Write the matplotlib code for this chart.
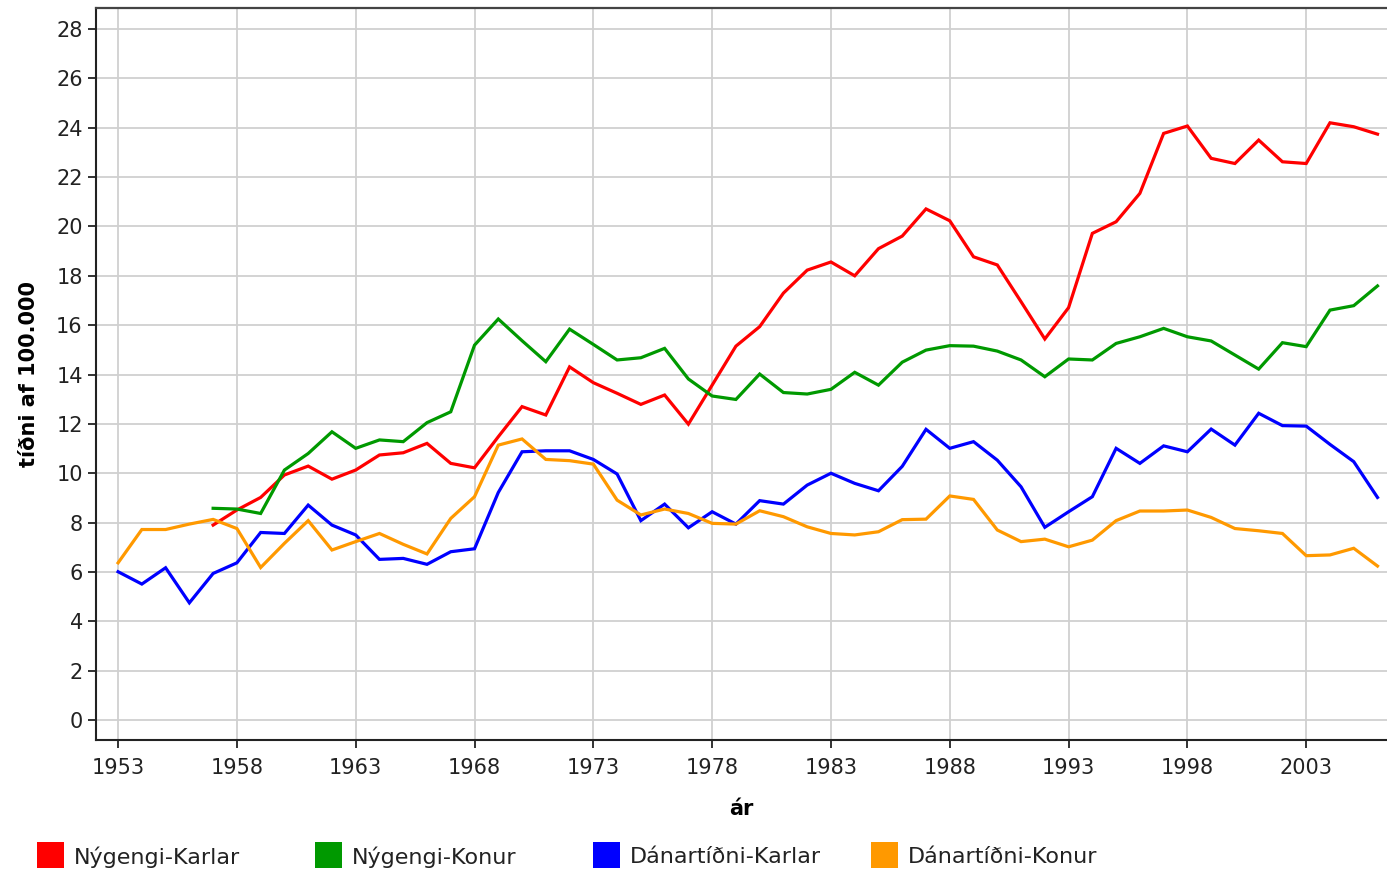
import numpy as np
import matplotlib
matplotlib.use("Agg")
import matplotlib.pyplot as plt
from matplotlib.patches import Rectangle

# === Data ===
years = list(range(1953, 2007))

# Nýgengi series start in 1957
nyg_karlar = [np.nan] * 4 + [
    7.90, 8.51, 9.02, 9.93, 10.29, 9.76, 10.13, 10.74, 10.83, 11.21, 10.40,
    10.22, 11.48, 12.70, 12.36, 14.31, 13.67, 13.24, 12.79, 13.17, 11.99,
    13.57, 15.15, 15.94, 17.30, 18.23, 18.56,
    18.00, 19.10, 19.61, 20.71, 20.23, 18.77, 18.44, 16.95, 15.44, 16.71,
    19.72, 20.19, 21.34, 23.77, 24.07, 22.76, 22.55, 23.50, 22.62, 22.55,
    24.20, 24.04, 23.74]
nyg_konur = [np.nan] * 4 + [
    8.58, 8.55, 8.37, 10.13, 10.80, 11.68, 11.01, 11.35, 11.28, 12.05, 12.49,
    15.19, 16.25, 15.37, 14.52, 15.84, 15.22, 14.59, 14.68, 15.06, 13.82,
    13.13, 12.99, 14.02, 13.27, 13.21, 13.40,
    14.09, 13.57, 14.50, 14.99, 15.17, 15.15, 14.95, 14.59, 13.91, 14.63,
    14.59, 15.26, 15.53, 15.87, 15.53, 15.36, 14.79, 14.22, 15.29, 15.13,
    16.61, 16.79, 17.59]
dan_karlar = [
    6.01, 5.51, 6.17, 4.75, 5.94, 6.37, 7.60, 7.56, 8.71, 7.90, 7.50, 6.51,
    6.55, 6.31, 6.82,
    6.94, 9.22, 10.87, 10.91, 10.91, 10.56, 9.97, 8.08, 8.75, 7.79, 8.44,
    7.94, 8.89, 8.75, 9.52, 10.00,
    9.59, 9.29, 10.28, 11.78, 11.01, 11.28, 10.53, 9.45, 7.81, 8.44, 9.05,
    11.01, 10.40, 11.11, 10.87, 11.79, 11.14, 12.43, 11.93, 11.91, 11.17,
    10.47, 9.02]
dan_konur = [
    6.37, 7.72, 7.72, 7.94, 8.13, 7.76, 6.18, 7.16, 8.08, 6.89, 7.23, 7.56,
    7.12, 6.73, 8.17,
    9.05, 11.14, 11.39, 10.56, 10.51, 10.37, 8.91, 8.31, 8.55, 8.37, 7.97,
    7.94, 8.48, 8.24, 7.83, 7.56,
    7.50, 7.63, 8.12, 8.14, 9.08, 8.94, 7.70, 7.23, 7.33, 7.02, 7.29, 8.08,
    8.47, 8.47, 8.51, 8.21, 7.76, 7.67, 7.56, 6.66, 6.69, 6.96, 6.24]

labels = ["Nýgengi-Karlar", "Nýgengi-Konur", "Dánartíðni-Karlar", "Dánartíðni-Konur"]
colors = ["#ff0000", "#009900", "#0000ff", "#ff9900"]
xticks = list(range(1953, 2004, 5))
yticks = list(range(0, 29, 2))

plt.rcParams.update({"font.family": "DejaVu Sans", "font.size": 15})

fig = plt.figure(figsize=(13.87, 8.73), dpi=100)
ax = fig.add_axes([0.0692, 0.1523, 0.9308, 0.8385])

for vals, c in zip([nyg_karlar, nyg_konur, dan_karlar, dan_konur], colors):
    ax.plot(years, vals, color=c, lw=2.3, solid_joinstyle="miter", zorder=3)

ax.set_xlim(1952.07, 2006.4)
ax.set_ylim(-0.81, 28.85)
ax.set_xticks(xticks)
ax.set_yticks(yticks)
ax.grid(True, color="#d0d0d0", lw=1.3)
ax.set_axisbelow(True)
ax.tick_params(direction="out", length=6, width=1.3, color="#222222",
               labelcolor="#222222", labelsize=15)
ax.tick_params(axis="x", pad=7)
for s in ["left", "bottom"]:
    ax.spines[s].set_color("#222222")
    ax.spines[s].set_linewidth(1.5)
ax.spines["top"].set_color("#444444")
ax.spines["top"].set_linewidth(1.6)
ax.spines["right"].set_visible(False)

ax.set_xlabel("ár", fontweight="bold", fontsize=15, labelpad=15)
ax.set_ylabel("tíðni af 100.000", fontweight="bold", fontsize=15, labelpad=12)

# legend row below the plot
for i, (lab, c) in enumerate(zip(labels, colors)):
    x0 = 0.0267 + i * 0.2005
    fig.patches.append(Rectangle((x0, 0.0057), 0.0195, 0.0298, transform=fig.transFigure,
                                 facecolor=c, edgecolor="none"))
    fig.text(x0 + 0.0267, 0.0185, lab, fontsize=16, va="center", color="#222222")

fig.savefig("out.png", dpi=100)
